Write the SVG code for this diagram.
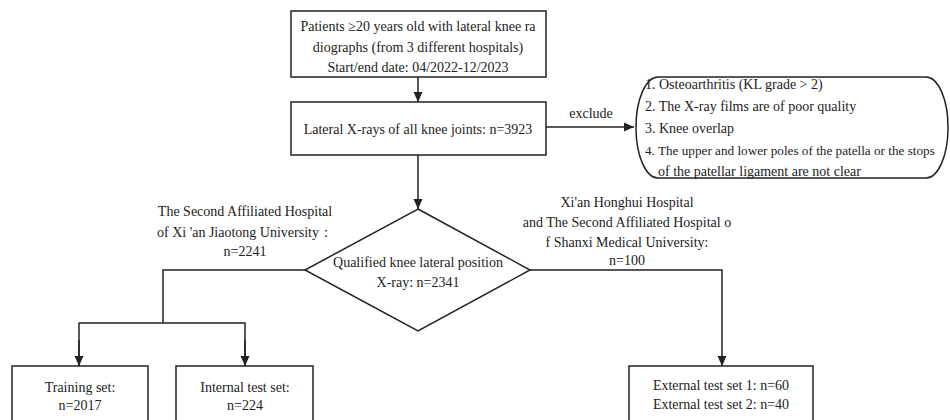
<svg xmlns="http://www.w3.org/2000/svg" width="950" height="420" viewBox="0 0 950 420">
<defs>
<style>
.box{fill:#fff;stroke:#222;stroke-width:1.5}
.ln{fill:none;stroke:#222;stroke-width:1.5}
text{font-family:"Liberation Serif","Times New Roman","DejaVu Serif",serif;font-size:14px;fill:#222}
.c{text-anchor:middle}
</style>
<marker id="ah" viewBox="0 0 10 10" refX="10" refY="5" markerWidth="10" markerHeight="10" markerUnits="userSpaceOnUse" orient="auto">
<path d="M0,0.5 L10,5 L0,9.5 Z" fill="#222"/>
</marker>
</defs>
<rect width="950" height="420" fill="#fff"/>
<g id="connectors">
<line class="ln" x1="418" y1="77" x2="418" y2="102" marker-end="url(#ah)"/>
<line class="ln" x1="418" y1="155" x2="418" y2="209" marker-end="url(#ah)"/>
<line class="ln" x1="546" y1="127" x2="634" y2="127" marker-end="url(#ah)"/>
<polyline class="ln" points="305,270 163,270 163,323"/>
<polyline class="ln" points="79,366 79,323 245,323 245,366"/>
<line class="ln" x1="79" y1="340" x2="79" y2="366" marker-end="url(#ah)"/>
<line class="ln" x1="245" y1="340" x2="245" y2="366" marker-end="url(#ah)"/>
<polyline class="ln" points="530,270 722,270 722,366" marker-end="url(#ah)"/>
<text class="c" x="591" y="118">exclude</text>
<text class="c" x="245" y="216">The Second Affiliated Hospital</text>
<text class="c" x="245" y="237">of Xi 'an Jiaotong University：</text>
<text class="c" x="245" y="256">n=2241</text>
<text class="c" x="627" y="207">Xi'an Honghui Hospital</text>
<text class="c" x="627" y="227">and The Second Affiliated Hospital o</text>
<text class="c" x="627" y="247">f Shanxi Medical University:</text>
<text class="c" x="627" y="265">n=100</text>
</g>
<g id="start">
<rect class="box" x="291" y="11" width="255" height="66"/>
<text class="c" x="418" y="31">Patients ≥20 years old with lateral knee ra</text>
<text class="c" x="418" y="52">diographs (from 3 different hospitals)</text>
<text class="c" x="418" y="72">Start/end date: 04/2022-12/2023</text>
</g>
<g id="all">
<rect class="box" x="291" y="102" width="255" height="53"/>
<text class="c" x="418" y="134">Lateral X-rays of all knee joints: n=3923</text>
</g>
<g id="exclusion">
<rect class="box" x="636" y="77" width="312" height="101" rx="22" ry="50"/>
<text x="645" y="89">1. Osteoarthritis (KL grade &gt; 2)</text>
<text x="645" y="111">2. The X-ray films are of poor quality</text>
<text x="645" y="133">3. Knee overlap</text>
<text x="645" y="155" style="font-size:13.2px">4. The upper and lower poles of the patella or the stops</text>
<text x="658" y="176">of the patellar ligament are not clear</text>
</g>
<g id="qualified">
<polygon class="box" points="418,209 530,270 418,331 305,270"/>
<text class="c" x="418" y="267">Qualified knee lateral position</text>
<text class="c" x="418" y="287">X-ray: n=2341</text>
</g>
<g id="training">
<rect class="box" x="12" y="366" width="136" height="60"/>
<text class="c" x="80" y="392">Training set:</text>
<text class="c" x="80" y="410">n=2017</text>
</g>
<g id="internal">
<rect class="box" x="176" y="366" width="137" height="60"/>
<text class="c" x="245" y="392">Internal test set:</text>
<text class="c" x="245" y="410">n=224</text>
</g>
<g id="external">
<rect class="box" x="629" y="366" width="184" height="60"/>
<text class="c" x="721" y="390">External test set 1: n=60</text>
<text class="c" x="721" y="409">External test set 2: n=40</text>
</g>
</svg>
